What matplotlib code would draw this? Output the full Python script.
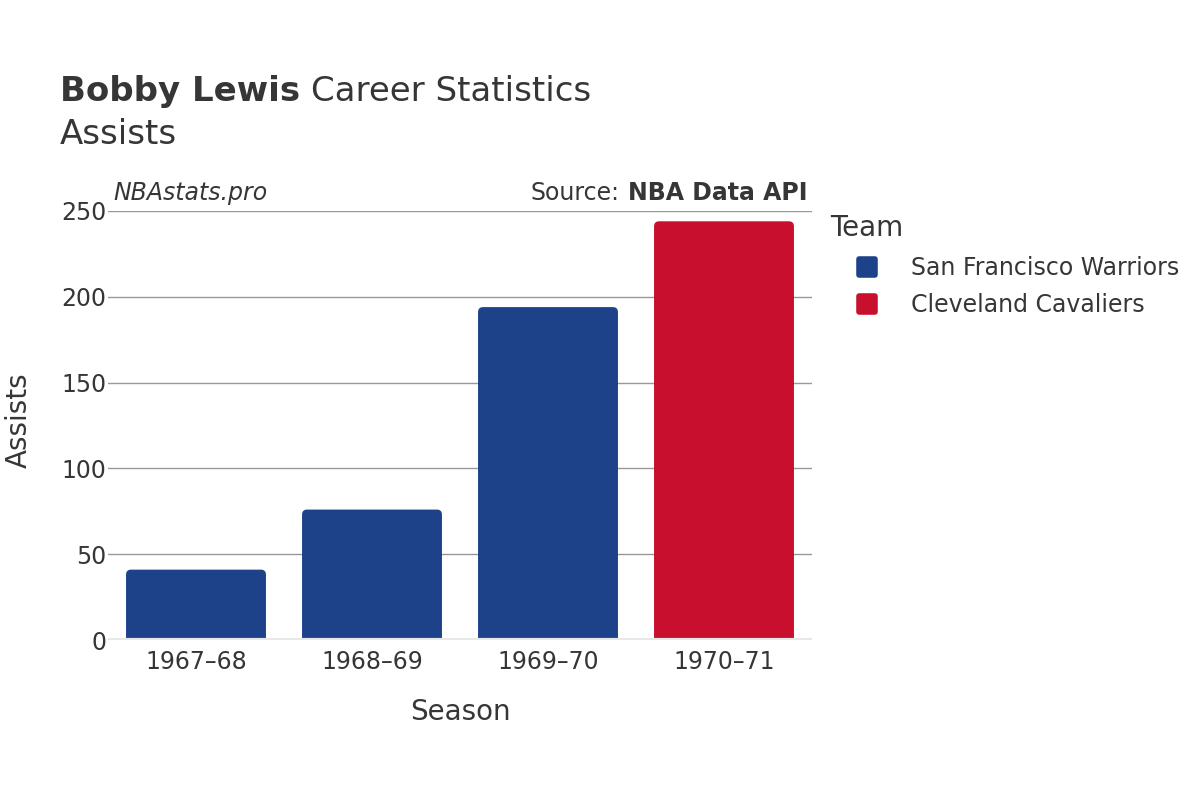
import matplotlib
matplotlib.use("Agg")
import matplotlib.pyplot as plt
from matplotlib.patches import FancyBboxPatch
from matplotlib.lines import Line2D
from matplotlib.markers import MarkerStyle

# data
seasons = ["1967\u201368", "1968\u201369", "1969\u201370", "1970\u201371"]
assists = [41, 76, 194, 244]
teams = ["San Francisco Warriors", "San Francisco Warriors", "San Francisco Warriors", "Cleveland Cavaliers"]
team_names = ["San Francisco Warriors", "Cleveland Cavaliers"]
team_colors = {"San Francisco Warriors": "#1D428A", "Cleveland Cavaliers": "#C8102E"}
yticks = [0, 50, 100, 150, 200, 250]

txt = "#363636"
plt.rcParams['font.family'] = 'sans-serif'
plt.rcParams['font.sans-serif'] = ['DejaVu Sans']

fig = plt.figure(figsize=(12, 8), dpi=100)
ax = fig.add_axes([108/1200, 160/800, 704/1200, 429/800])
ax.set_xlim(-0.5, len(seasons) - 0.5)
ax.set_ylim(0, 250)

# bars with rounded tops (px -> data conversion for corner radius)
bw = 0.795
px_x = 704 / len(seasons)
px_y = 429 / 250
r = 5 / px_x
for i, (v, t) in enumerate(zip(assists, teams)):
    p = FancyBboxPatch((i - bw/2, -10), bw, v + 10,
                       boxstyle=f"round,pad=0,rounding_size={r}",
                       mutation_aspect=px_x / px_y,
                       facecolor=team_colors[t], edgecolor="none", zorder=3)
    ax.add_patch(p)

ax.set_yticks(yticks)
ax.set_xticks(range(len(seasons)))
ax.set_xticklabels(seasons)
ax.grid(axis="y", color="#999999", linewidth=1, zorder=0)
ax.axhline(0, color="#e8e8e8", linewidth=3, zorder=4)
for s in ax.spines.values():
    s.set_visible(False)
ax.tick_params(axis="both", length=0, labelsize=17, colors=txt)
ax.tick_params(axis="x", pad=7)
ax.tick_params(axis="y", pad=1)

ax.set_xlabel("Season", fontsize=20, color=txt)
ax.set_ylabel("Assists", fontsize=20, color=txt)
ax.xaxis.set_label_coords(0.5, -(698 - 640) / 429)
ax.yaxis.set_label_coords((33 - 108) / 704, (640 - 420) / 429)

# titles
t1 = fig.text(60/1200, 1 - 101/800, "Bobby Lewis", fontsize=24.5, color=txt, weight="bold")
fig.canvas.draw()
bb = t1.get_window_extent()
fig.text((bb.x1 + 11) / 1200, 1 - 101/800, "Career Statistics", fontsize=24.5, color=txt)
fig.text(60/1200, 1 - 144/800, "Assists", fontsize=24.5, color=txt)

fig.text(113/1200, 1 - 200/800, "NBAstats.pro", fontsize=17, color=txt, style="italic")
s2 = fig.text(808/1200, 1 - 200/800, "NBA Data API", fontsize=17, color=txt, weight="bold", ha="right")
fig.canvas.draw()
bb2 = s2.get_window_extent()
fig.text((bb2.x0 - 9) / 1200, 1 - 200/800, "Source:", fontsize=17, color=txt, ha="right")

# legend
fig.text(830/1200, 1 - 236/800, "Team", fontsize=20, color=txt)
mk = MarkerStyle("s", joinstyle="round")
handles = [Line2D([], [], marker=mk, linestyle="none", markersize=12, markeredgewidth=4,
                  markerfacecolor=team_colors[n], markeredgecolor=team_colors[n])
           for n in team_names]
leg = fig.legend(handles, team_names, loc="upper left", bbox_to_anchor=(852/1200, 1 - 256/800),
                 frameon=False, fontsize=17, handlelength=1.3, handletextpad=1.2,
                 labelspacing=0.55, borderaxespad=0, borderpad=0)
for t in leg.get_texts():
    t.set_color(txt)

fig.savefig("out.png", dpi=100)
